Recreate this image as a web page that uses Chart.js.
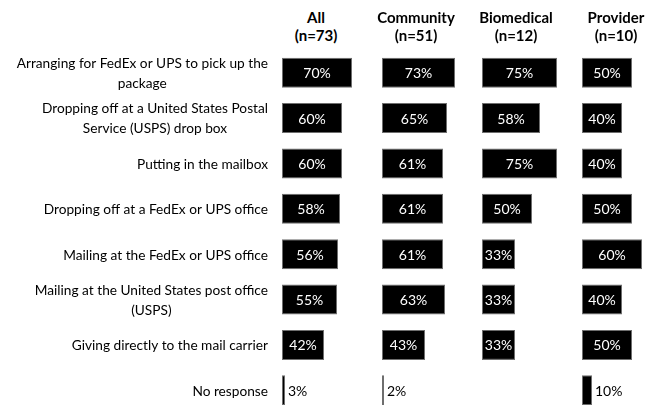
<!DOCTYPE html>
<html>
<head>
<meta charset="utf-8">
<script src="https://cdn.jsdelivr.net/npm/chart.js@4.4.1/dist/chart.umd.min.js"></script>
<style>
  html, body { margin: 0; padding: 0; background: #fff; overflow: hidden; }
  #wrap { position: relative; width: 650px; height: 405px; overflow: hidden; }
  .panel { position: absolute; top: 0; height: 415px; }
  .head {
    position: absolute; top: 8px; width: 120px; text-align: center;
    font: bold 15px Lato, sans-serif; line-height: 18px; color: #000;
  }
</style>
</head>
<body>
<div id="wrap"></div>
<script>
// Survey data
const categories = [
    ['Arranging for FedEx or UPS to pick up the', 'package'],
    ['Dropping off at a United States Postal', 'Service (USPS) drop box'],
    'Putting in the mailbox',
    'Dropping off at a FedEx or UPS office',
    'Mailing at the FedEx or UPS office',
    ['Mailing at the United States post office', '(USPS)'],
    'Giving directly to the mail carrier',
    'No response'
];
const groups = ['All', 'Community', 'Biomedical', 'Provider'];
const groupSizes = ['(n=73)', '(n=51)', '(n=12)', '(n=10)'];
const allValues = [70, 60, 60, 58, 56, 55, 42, 3];
const communityValues = [73, 65, 61, 61, 61, 63, 43, 2];
const biomedicalValues = [75, 58, 75, 50, 33, 33, 33, 0];
const providerValues = [50, 40, 40, 50, 60, 40, 50, 10];

const seriesValues = [allValues, communityValues, biomedicalValues, providerValues];
const panelLefts = [282, 382, 482, 582];
const panelWidth = 100;
const labelArea = 282;

// value labels: white inside the bar, black beside it when it doesn't fit
const valueLabels = {
    id: 'valueLabels',
    afterDatasetsDraw(chart) {
        const ctx = chart.ctx;
        const meta = chart.getDatasetMeta(0);
        const data = chart.data.datasets[0].data;
        ctx.save();
        ctx.font = '14px Lato, sans-serif';
        ctx.textBaseline = 'middle';
        meta.data.forEach((bar, i) => {
            const v = data[i];
            if (!v) return;
            const text = v + '%';
            const w = ctx.measureText(text).width;
            const barW = bar.x - bar.base;
            if (barW > w + 2) {
                ctx.fillStyle = '#fff';
                ctx.textAlign = 'center';
                ctx.fillText(text, bar.base + barW / 2, bar.y + 1);
            } else {
                ctx.fillStyle = '#000';
                ctx.textAlign = 'left';
                ctx.fillText(text, bar.x + 3, bar.y + 1);
            }
        });
        ctx.restore();
    }
};

// category labels on the left of the first panel
const categoryLabels = {
    id: 'categoryLabels',
    afterDraw(chart) {
        const ctx = chart.ctx;
        const yScale = chart.scales.y;
        const right = chart.chartArea.left - 14;
        ctx.save();
        ctx.font = '13.7px Lato, sans-serif';
        ctx.fillStyle = '#000';
        ctx.textBaseline = 'middle';
        chart.data.labels.forEach((label, i) => {
            const y = yScale.getPixelForValue(i);
            if (Array.isArray(label)) {
                const w = ctx.measureText(label[0]).width;
                ctx.textAlign = 'right';
                ctx.fillText(label[0], right, y - 9);
                ctx.textAlign = 'center';
                ctx.fillText(label[1], right - w / 2, y + 11);
            } else {
                ctx.textAlign = 'right';
                ctx.fillText(label, right, y + 1);
            }
        });
        ctx.restore();
    }
};

const wrap = document.getElementById('wrap');

groups.forEach((g, k) => {
    const head = document.createElement('div');
    head.className = 'head';
    head.style.left = (panelLefts[k] + 34 - 60) + 'px';
    head.innerHTML = g + '<br>' + groupSizes[k];
    wrap.appendChild(head);

    const first = k === 0;
    const box = document.createElement('div');
    box.className = 'panel';
    const left = first ? 0 : panelLefts[k];
    const width = first ? labelArea + panelWidth : panelWidth;
    box.style.left = left + 'px';
    box.style.width = width + 'px';
    const canvas = document.createElement('canvas');
    box.appendChild(canvas);
    wrap.appendChild(box);

    new Chart(canvas, {
        type: 'bar',
        data: {
            labels: categories,
            datasets: [{
                label: g,
                data: seriesValues[k],
                backgroundColor: '#000',
                borderColor: '#6e6e6e',
                borderWidth: 1,
                borderSkipped: false,
                barPercentage: 0.66,
                categoryPercentage: 1
            }]
        },
        options: {
            indexAxis: 'y',
            responsive: true,
            maintainAspectRatio: false,
            animation: false,
            layout: { padding: { left: first ? labelArea : 0, top: 50, bottom: 2, right: 0 } },
            scales: {
                x: { display: false, min: 0, max: 100 },
                y: { display: false }
            },
            plugins: {
                legend: { display: false },
                tooltip: { enabled: false }
            }
        },
        plugins: first ? [valueLabels, categoryLabels] : [valueLabels]
    });
});
</script>
</body>
</html>
